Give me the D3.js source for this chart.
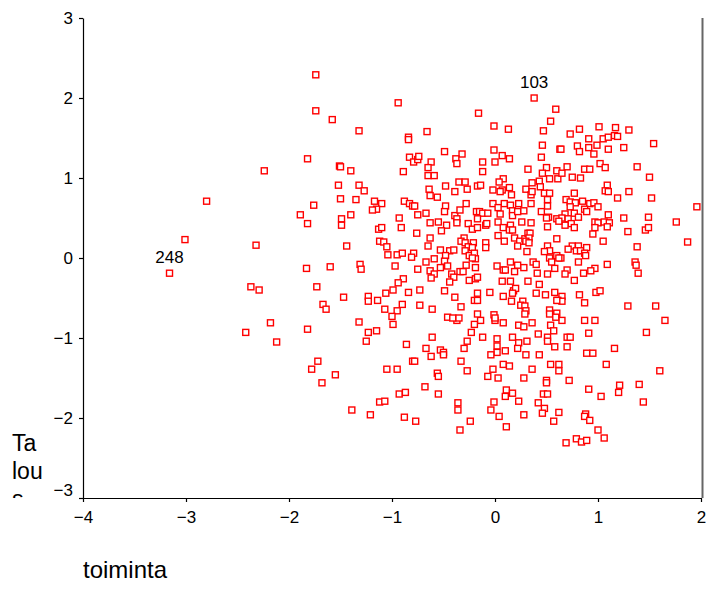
<!DOCTYPE html>
<html><head><meta charset="utf-8">
<script src="https://cdn.jsdelivr.net/npm/d3@7"></script>
<style>
html,body{margin:0;padding:0;background:#fff;}
svg{display:block;font-family:"Liberation Sans",Arial,sans-serif;}
</style></head>
<body>
<script>
// ---- data ----
const xTicks = [-4, -3, -2, -1, 0, 1, 2];
const yTicks = [-3, -2, -1, 0, 1, 2, 3];
const xLabel = "toiminta";
const yLabelLines = ["Ta", "lou", "s"];
const caseIds = ["103", "248"];
const caseX = [0.38, -3.16];
const caseY = [2.00, -0.19];
const points = [
[-2.80,0.71],[-3.01,0.23],[-2.24,1.09],[-2.32,0.16],[-3.16,-0.19],[-2.37,-0.36],[-2.29,-0.40],[-2.18,-0.81],[-2.42,-0.93],[-2.12,-1.05],
[-1.74,2.29],[-1.74,1.84],[-1.58,1.73],[-1.32,1.59],[-0.94,1.94],[-0.84,1.51],[-0.84,1.48],[-1.82,1.24],[-1.51,1.15],[-1.50,1.14],
[-1.40,1.09],[-1.52,0.91],[-1.32,0.91],[-1.27,0.84],[-0.83,1.26],[-0.79,1.20],[-0.75,1.23],[-0.74,1.27],[-0.89,1.08],
[0.38,2.00],[0.59,1.86],[-0.16,1.81],[0.54,1.71],[-0.66,1.58],[-0.01,1.65],[0.13,1.61],[0.47,1.59],[0.46,1.41],[0.63,1.36],
[-0.49,1.33],[-0.01,1.35],[0.45,1.26],[-0.62,1.20],[-0.32,1.30],[-0.38,1.24],[-0.37,1.18],[0.07,1.28],[0.14,1.24],[-0.12,1.20],
[0.00,1.20],[-0.65,1.13],[-0.12,1.08],[0.32,1.11],[0.50,1.13],[0.46,1.06],[0.60,1.09],[-0.65,1.03],[-0.59,1.03],[0.08,0.99],
[0.43,0.96],[0.53,0.99],[0.61,0.99],[-0.35,0.95],[-0.29,0.95],[-0.48,0.90],[-0.17,0.90],[-0.14,0.91],[-0.27,0.86],[0.04,0.95],
[-0.02,0.85],[0.07,0.85],[0.14,0.88],[0.30,0.86],[0.36,0.94],[0.44,0.89],[-0.64,0.86],[-0.39,0.83],
[1.01,1.64],[1.17,1.63],[1.30,1.60],[0.82,1.61],[0.73,1.55],[0.91,1.49],[1.05,1.49],[1.10,1.51],[1.16,1.53],[1.19,1.52],
[1.54,1.43],[0.64,1.36],[0.80,1.40],[0.82,1.33],[0.91,1.38],[0.99,1.41],[1.10,1.36],[0.96,1.30],[1.25,1.38],[0.70,1.14],
[0.87,1.11],[0.92,1.11],[1.02,1.18],[1.07,1.13],[1.38,1.14],[0.65,1.06],[0.75,1.01],[0.83,1.00],[1.50,1.01],[1.09,0.91],
[1.07,0.84],[1.10,0.83],[1.30,0.83],[0.77,0.81],
[-1.76,0.66],[-1.50,0.74],[-1.35,0.73],[-1.17,0.71],[-1.10,0.68],[-1.15,0.61],[-1.19,0.60],[-0.88,0.71],[-0.83,0.68],[-0.80,0.65],
[-1.89,0.54],[-1.82,0.43],[-1.49,0.49],[-1.49,0.41],[-1.40,0.54],[-0.93,0.50],[-0.75,0.54],[-0.91,0.38],[-1.13,0.36],[-1.10,0.38],
[-0.76,0.31],[-1.12,0.21],[-1.08,0.20],[-1.05,0.14],[-1.44,0.15],[-1.04,0.04],[-0.95,0.04],[-0.90,0.06],[-0.79,0.06],[-0.81,0.01],
[-1.83,-0.13],[-1.60,-0.11],[-1.31,-0.08],[-1.30,-0.14],[-0.97,-0.10],[-0.75,-0.14],[-0.89,-0.26],[-0.94,-0.31],[-0.99,-0.40],[-1.06,-0.44],
[-0.84,-0.43],[-0.73,-0.40],[-1.73,-0.36],[-1.47,-0.49],[-1.23,-0.48],[-1.23,-0.54],[-1.14,-0.53],[-1.67,-0.58],[-1.64,-0.64],[-1.07,-0.64],
[-0.90,-0.58],[-0.95,-0.66],[-1.00,-0.73],[-1.32,-0.80],[-0.99,-0.83],[-0.73,-0.59],
[-1.82,-0.89],[-1.23,-0.93],[-1.15,-0.91],[-1.25,-1.04],[-0.86,-1.08],[-1.72,-1.29],[-1.78,-1.39],[-1.55,-1.46],[-1.68,-1.56],[-1.05,-1.39],
[-0.95,-1.39],[-0.80,-1.29],[-0.93,-1.70],[-0.87,-1.68],[-1.12,-1.80],[-1.07,-1.79],[-1.39,-1.90],[-1.21,-1.96],[-0.88,-1.99],[-0.77,-2.04],
[-0.37,-0.78],[-0.14,-0.78],[0.00,-0.78],[-0.20,-0.83],[0.08,-0.81],[0.23,-0.84],[0.28,-0.86],[0.54,-0.84],[-0.23,-0.93],[0.57,-0.91],
[-0.61,-0.99],[-0.12,-0.99],[-0.27,-1.04],[0.02,-1.01],[0.17,-0.99],[0.31,-1.04],[0.42,-0.95],[0.51,-0.99],[0.51,-1.04],[0.23,-1.06],
[0.02,-1.10],[0.58,-1.11],[-0.67,-1.13],[-0.53,-1.15],[-0.50,-1.18],[-0.50,-1.21],[-0.30,-1.13],[0.02,-1.18],[-0.04,-1.21],[0.10,-1.16],
[0.22,-1.13],[0.30,-1.21],[0.43,-1.21],[-0.62,-1.23],[-0.78,-1.29],[-0.33,-1.29],[0.08,-1.33],[0.14,-1.35],[-0.02,-1.39],[0.36,-1.39],
[0.54,-1.33],[0.62,-1.33],[0.62,-1.41],[-0.56,-1.44],[-0.55,-1.48],[-0.27,-1.41],[-0.07,-1.48],[0.03,-1.50],[0.28,-1.50],[0.50,-1.53],
[0.50,-1.56],[-0.68,-1.61],[-0.55,-1.70],[0.11,-1.65],[0.10,-1.73],[0.17,-1.69],[0.23,-1.79],[0.47,-1.70],[0.51,-1.70],[-0.36,-1.81],
[-0.36,-1.90],[-0.01,-1.80],[-0.04,-1.90],[0.42,-1.81],[0.48,-1.88],[0.46,-1.94],[0.62,-1.93],[0.04,-1.98],[0.28,-1.96],[-0.24,-2.04],
[0.57,-2.04],[0.11,-2.11],[-0.34,-2.15],
[0.65,-0.78],[0.87,-0.78],[0.97,-0.78],[1.65,-0.78],[0.70,-0.99],[0.73,-0.99],[0.91,-0.94],[1.47,-0.93],[0.70,-1.11],[1.16,-1.13],
[0.89,-1.19],[0.95,-1.19],[1.08,-1.33],[1.60,-1.41],[0.72,-1.53],[1.21,-1.59],[1.40,-1.58],[0.91,-1.64],[1.20,-1.68],[1.03,-1.73],
[1.44,-1.80],[0.88,-1.95],[0.87,-1.98],[0.92,-2.03],[1.00,-2.15],[1.06,-2.25],[0.79,-2.26],[0.84,-2.30],[0.89,-2.28],[0.69,-2.31],
[1.19,0.75],[1.52,0.75],[0.69,0.73],[0.73,0.70],[0.78,0.69],[0.85,0.71],[0.92,0.68],[0.96,0.69],[1.00,0.64],[0.73,0.64],
[0.87,0.61],[0.89,0.58],[1.96,0.64],[0.77,0.56],[0.68,0.55],[0.81,0.51],[1.10,0.54],[1.25,0.50],[1.49,0.51],[1.76,0.45],
[0.60,0.49],[0.65,0.50],[0.71,0.49],[0.74,0.43],[0.68,0.41],[0.97,0.45],[1.00,0.44],[1.06,0.45],[1.11,0.44],[0.97,0.38],
[1.09,0.39],[0.77,0.38],[1.46,0.35],[1.49,0.38],[1.29,0.33],[0.95,0.30],[0.60,0.24],[1.05,0.21],[1.87,0.20],[0.75,0.15],
[0.81,0.15],[1.38,0.14],[0.71,0.11],[0.79,0.09],[0.83,0.09],[0.89,0.13],[0.87,0.06],[0.88,0.03],[0.60,0.03],[0.64,0.00],
[0.81,-0.05],[1.09,-0.08],[1.36,-0.05],[1.37,-0.09],[0.58,-0.13],[0.97,-0.13],[0.70,-0.15],[0.68,-0.20],[0.86,-0.19],[0.93,-0.16],
[1.39,-0.19],[0.77,-0.28],[0.58,-0.43],[0.82,-0.46],[0.98,-0.43],[1.02,-0.41],[0.65,-0.48],[0.61,-0.53],[0.65,-0.54],[0.87,-0.56],
[1.29,-0.60],[1.56,-0.60],[0.60,-0.69],
[-0.56,0.76],[-0.63,0.78],[0.05,0.83],[0.16,0.79],[0.35,0.79],[0.36,0.83],[0.48,0.81],[0.53,0.81],[-0.78,0.65],[-0.48,0.65],
[-0.28,0.68],[-0.02,0.68],[0.09,0.68],[0.03,0.63],[0.15,0.66],[0.23,0.68],[0.35,0.68],[0.51,0.73],[0.51,0.65],[-0.67,0.56],
[-0.49,0.58],[-0.39,0.53],[-0.34,0.60],[-0.18,0.58],[-0.15,0.58],[-0.12,0.56],[-0.07,0.56],[0.05,0.55],[0.17,0.59],[0.17,0.53],
[0.22,0.58],[0.28,0.59],[0.45,0.58],[0.52,0.51],[0.62,0.46],[-0.37,0.49],[-0.37,0.44],[-0.17,0.49],[-0.09,0.41],[-0.08,0.43],
[0.03,0.45],[0.15,0.41],[0.26,0.45],[0.35,0.44],[0.51,0.39],[0.50,0.50],[-0.63,0.44],[-0.55,0.45],[-0.47,0.41],[-0.26,0.43],
[-0.22,0.36],[-0.17,0.38],[0.08,0.38],[0.14,0.35],[0.17,0.35],[-0.52,0.34],[0.03,0.28],[0.09,0.21],[0.19,0.25],[0.24,0.21],
[0.29,0.24],[0.32,0.31],[0.34,0.31],[0.33,0.25],[0.30,0.21],[-0.63,0.25],[-0.30,0.25],[-0.33,0.21],[-0.65,0.15],[-0.29,0.19],
[-0.21,0.19],[-0.26,0.14],[-0.22,0.13],[-0.09,0.19],[-0.09,0.13],[0.22,0.15],[0.33,0.19],[0.31,0.08],[0.51,0.15],[0.53,0.09],
[0.48,0.08],[0.62,0.00],[-0.53,0.10],[-0.44,0.09],[-0.40,0.10],[-0.29,0.09],[-0.25,0.03],[-0.20,0.06],[-0.19,-0.01],[-0.22,0.00],
[-0.48,0.03],[-0.59,-0.01],[-0.67,-0.05],[-0.49,-0.04],[0.15,-0.05],[0.22,-0.09],[0.37,-0.05],[0.40,-0.08],[0.53,0.00],[0.55,-0.05],
[-0.63,-0.16],[-0.53,-0.12],[-0.46,-0.10],[-0.28,-0.09],[-0.19,-0.12],[0.02,-0.10],[0.08,-0.15],[0.10,-0.15],[0.19,-0.17],[0.28,-0.12],
[0.41,-0.19],[0.51,-0.20],[-0.34,-0.17],[-0.31,-0.17],[-0.42,-0.20],[-0.40,-0.24],[-0.59,-0.20],[-0.62,-0.25],[-0.44,-0.30],[-0.25,-0.28],
[-0.19,-0.26],[-0.17,-0.24],[0.07,-0.29],[0.15,-0.29],[0.32,-0.29],[0.43,-0.33],[-0.49,-0.41],[-0.17,-0.44],[-0.05,-0.43],[0.08,-0.48],
[0.18,-0.41],[0.20,-0.38],[0.17,-0.44],[0.40,-0.44],[0.49,-0.46],[0.60,-0.53],[-0.39,-0.49],[-0.20,-0.53],[-0.17,-0.53],[0.16,-0.54],
[0.27,-0.54],[-0.61,-0.64],[-0.33,-0.61],[0.25,-0.59],[0.29,-0.60],[0.53,-0.65],[-0.46,-0.74],[-0.41,-0.75],[-0.35,-0.75],[-0.17,-0.70],
[-0.01,-0.71],[0.00,-0.75],[0.30,-0.66],[0.29,-0.70],[0.53,-0.70],[0.59,-0.74],[0.36,-0.81]
];

// ---- chart ----
const W = 708, H = 589;
const m = {left: 83, top: 18, right: 7, bottom: 91};
const svg = d3.select("body").append("svg").attr("width", W).attr("height", H);

const x = d3.scaleLinear().domain([-4, 2]).range([m.left, W - m.right]);
const y = d3.scaleLinear().domain([-3, 3]).range([H - m.bottom, m.top]);

// right frame line
svg.append("line")
  .attr("x1", x(2) + 1.5).attr("x2", x(2) + 1.5)
  .attr("y1", y(3)).attr("y2", y(-3))
  .attr("stroke", "#666").attr("stroke-width", 2);

// points
svg.append("g").selectAll("rect").data(points).join("rect")
  .attr("x", d => x(d[0]) - 3)
  .attr("y", d => y(d[1]) - 3)
  .attr("width", 6).attr("height", 6)
  .attr("fill", "#fff").attr("stroke", "#ff0000").attr("stroke-width", 1.4);

// axes
const gx = svg.append("g").attr("transform", `translate(0,${y(-3)})`)
  .call(d3.axisBottom(x).tickValues(xTicks).tickFormat(d3.format("d")).tickSize(4).tickSizeOuter(0).tickPadding(9));
const gy = svg.append("g").attr("transform", `translate(${x(-4)},0)`)
  .call(d3.axisLeft(y).tickValues(yTicks).tickFormat(d3.format("d")).tickSize(4).tickSizeOuter(0).tickPadding(6));
[gx, gy].forEach(g => {
  g.selectAll("path,line").attr("stroke", "#000").attr("stroke-width", 1.2);
  g.selectAll("text").attr("fill", "#000").style("font-size", "17px")
    .style("font-family", '"Liberation Sans",Arial,sans-serif');
});
gy.selectAll(".tick").filter(d => d === -3).select("text").attr("dy", "-0.12em");

// case labels
svg.append("g").selectAll("text").data(caseIds).join("text")
  .attr("x", (d, i) => x(caseX[i]))
  .attr("y", (d, i) => y(caseY[i]) - 10)
  .attr("text-anchor", "middle")
  .style("font-size", "17px").attr("fill", "#000")
  .text(d => d);

// x axis title
svg.append("text").attr("x", x(-4)).attr("y", 578)
  .style("font-size", "24px").attr("fill", "#000").text(xLabel);

// y axis title (wrapped, clipped)
svg.append("clipPath").attr("id", "yclip").append("rect")
  .attr("x", 0).attr("y", 0).attr("width", 70).attr("height", y(-3));
svg.append("g").attr("clip-path", "url(#yclip)")
  .selectAll("text").data(yLabelLines).join("text")
  .attr("x", 12).attr("y", (d, i) => 451 + i * 28)
  .style("font-size", "23px").attr("fill", "#000").text(d => d);
</script>
</body></html>
